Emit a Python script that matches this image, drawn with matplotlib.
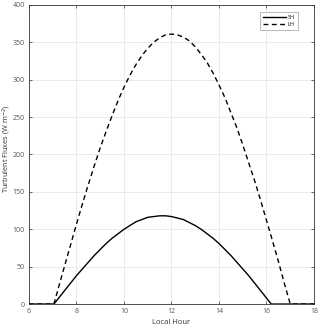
import numpy as np
import matplotlib
matplotlib.use('Agg')
import matplotlib.pyplot as plt

# values (local hour vs flux, W m-2)
hours_sh = [6.0, 7.0, 7.05, 7.25, 7.5, 7.75, 8.0, 8.25, 8.5, 8.75, 9.0, 9.25, 9.5, 9.75,
            10.0, 10.25, 10.5, 10.75, 11.0, 11.25, 11.5, 11.75, 12.0, 12.25, 12.5, 12.75,
            13.0, 13.25, 13.5, 13.75, 14.0, 14.25, 14.5, 14.75, 15.0, 15.25, 15.5, 15.75,
            16.0, 16.2, 18.0]
sh = [0, 0, 0, 8, 18, 28, 38, 47, 56, 65, 73, 81, 88, 94,
      100, 105, 110, 113, 116, 117, 118, 118, 117, 115, 113, 109,
      105, 100, 94, 88, 81, 73, 65, 56, 47, 38, 28, 18,
      8, 0, 0]

hours_lh = [6.0, 7.0, 7.05, 7.25, 7.5, 7.75, 8.0, 8.25, 8.5, 8.75, 9.0, 9.25, 9.5, 9.75,
            10.0, 10.25, 10.5, 10.75, 11.0, 11.25, 11.5, 11.75, 12.0, 12.25, 12.5, 12.75,
            13.0, 13.25, 13.5, 13.75, 14.0, 14.25, 14.5, 14.75, 15.0, 15.25, 15.5, 15.75,
            16.0, 16.25, 16.5, 16.75, 17.0, 18.0]
lh = [0, 0, 0, 23, 51, 79, 107, 134, 160, 185, 209, 231, 252, 272,
      290, 306, 320, 332, 342, 350, 356, 360, 361, 360, 357, 352,
      344, 334, 323, 309, 293, 276, 256, 236, 213, 189, 165, 139,
      112, 85, 57, 28, 0, 0]

x_ticks = [6, 8, 10, 12, 14, 16, 18]
y_ticks = [0, 50, 100, 150, 200, 250, 300, 350, 400]

plt.rcParams['font.family'] = ['Open Sans', 'DejaVu Sans']

fig = plt.figure(figsize=(3.2, 3.28), dpi=100)
ax = fig.add_axes([0.0906, 0.073, 0.8906, 0.912])

ax.plot(hours_sh, sh, color='black', lw=1.0, label='SH')
ax.plot(hours_lh, lh, color='black', lw=1.0, ls=(0, (3.5, 2.5)), label='LH')

ax.set_xlim(6, 18)
ax.set_ylim(0, 400)
ax.set_xticks(x_ticks)
ax.set_yticks(y_ticks)
ax.grid(True, color='#e8e8e8', lw=0.6)
ax.set_axisbelow(True)
ax.tick_params(direction='in', top=True, right=True, length=2.5, width=0.5,
               labelsize=5, colors='#333333', labelcolor='#555555', pad=3)
for s in ax.spines.values():
    s.set_color('#333333')
    s.set_linewidth(0.6)

ax.set_xlabel('Local Hour', fontsize=5.5, color='#333333', labelpad=3)
ax.set_ylabel('Turbulent Fluxes (W m$^{-2}$)', fontsize=5.3, color='#333333')
ax.yaxis.set_label_coords(-0.057, 0.52)

leg = ax.legend(loc='upper right', fontsize=4, handlelength=4.2, frameon=True,
                fancybox=False, edgecolor='#999999', borderpad=0.55,
                handletextpad=0.3, labelspacing=0.45, borderaxespad=0,
                bbox_to_anchor=(0.944, 0.977))
leg.get_frame().set_linewidth(0.6)

fig.savefig('out.png', dpi=100)
